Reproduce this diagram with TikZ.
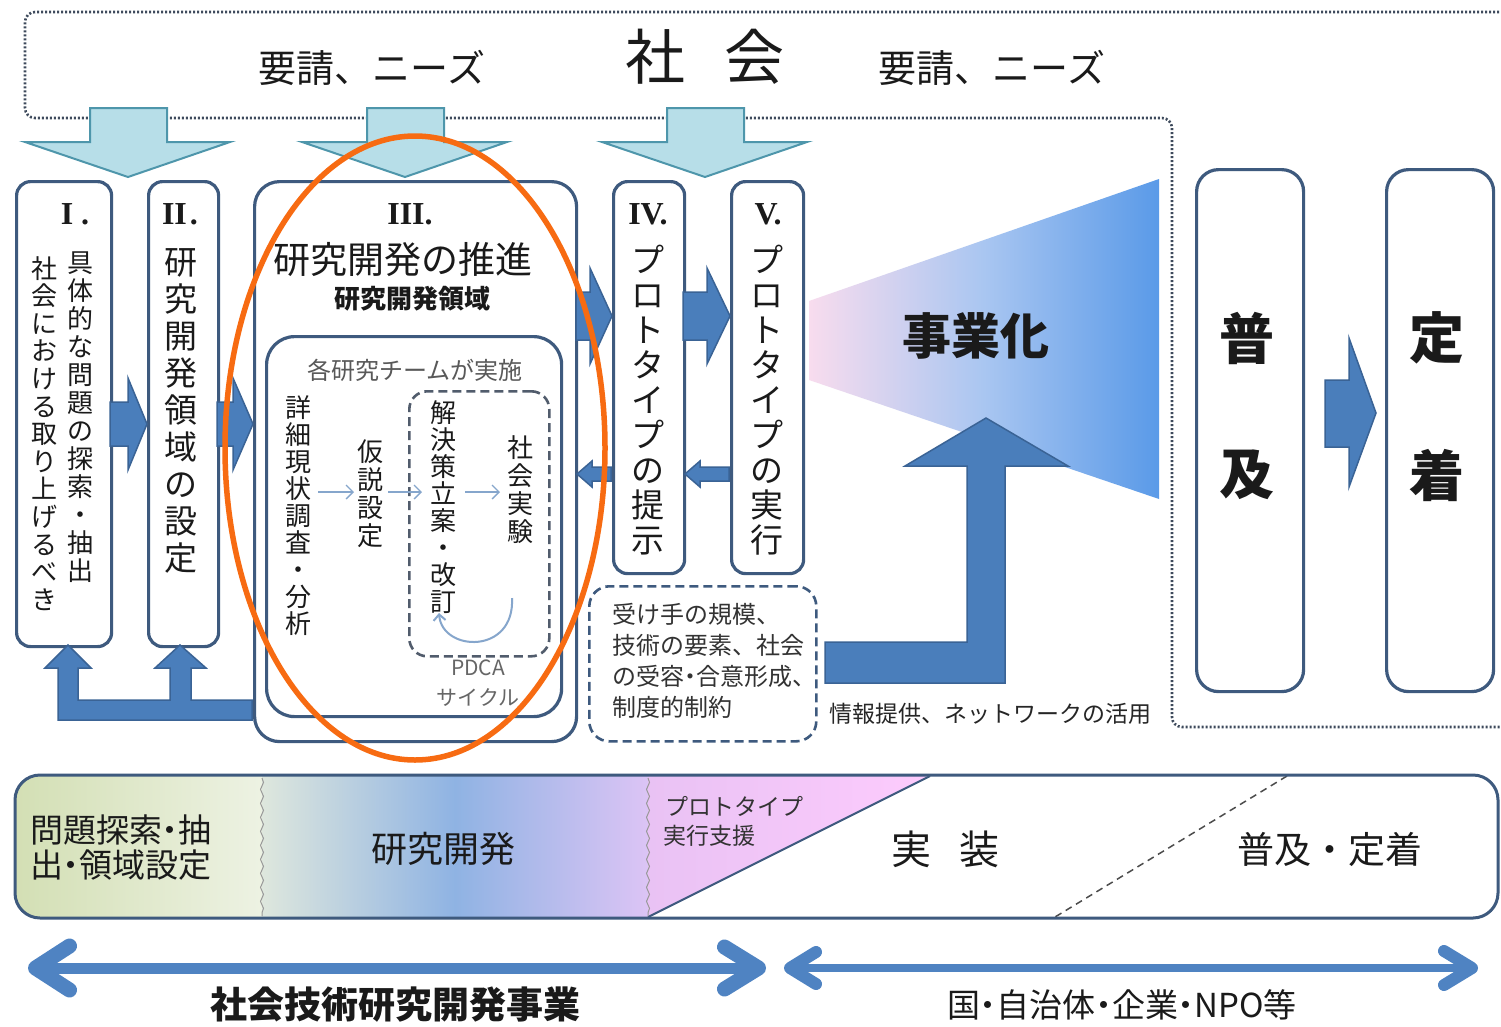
\documentclass[tikz,border=0pt]{standalone}
\usepackage{fontspec}
\setmainfont{Noto Sans CJK JP}
\newfontfamily\romf{Liberation Serif}
\usetikzlibrary{arrows.meta,decorations.pathmorphing}
\definecolor{bxb}{HTML}{3E5A7E}
\definecolor{barF}{HTML}{4A7EBB}
\definecolor{barD}{HTML}{3A6395}
\definecolor{lF}{HTML}{B7DEE8}
\definecolor{lD}{HTML}{4E96AB}
\definecolor{orng}{HTML}{F76B12}
\definecolor{dotc}{HTML}{3E4A5C}
\definecolor{txt}{HTML}{1A1A1A}
\definecolor{trL}{HTML}{F8DCEE}
\definecolor{trM}{HTML}{A9C6F1}
\definecolor{trR}{HTML}{5A9AE8}
\definecolor{gA}{HTML}{D3DFB4}
\definecolor{gB}{HTML}{EDF2E3}
\definecolor{mA}{HTML}{DEE7DD}
\definecolor{mB}{HTML}{8FB3E3}
\definecolor{mC}{HTML}{DCC4F5}
\definecolor{pA}{HTML}{E9C2F4}
\definecolor{pB}{HTML}{FDCBFD}
\definecolor{thin}{HTML}{86A6CC}
\definecolor{botA}{HTML}{4F83C2}
\makeatletter
\def\vt#1{\vt@i#1\@nil}
\def\vt@i#1#2\@nil{#1\ifx\relax#2\relax\expandafter\@gobble\else\expandafter\@firstofone\fi{\\\vt@i#2\@nil}}
\makeatother
\newcommand\md{\makebox[0.5em]{・}}
\tikzset{
  box/.style={draw=bxb, line width=3.2pt, fill=white, anchor=north west, inner sep=0pt, rounded corners=14pt},
  vtxt/.style={anchor=north, inner sep=0pt, align=center, text=txt},
  rom/.style={inner sep=0pt, text=txt, font=\romf\bfseries\fontsize{32}{34}\selectfont},
  barrow/.style={fill=barF, draw=barD, line width=1.5pt, line join=miter},
  larrow/.style={fill=lF, draw=lD, line width=2pt},
  tx/.style={inner sep=0pt, text=txt},
  thinarrow/.style={draw=thin, line width=1.3pt, -{Straight Barb[length=7pt,width=14pt]}},
}
\begin{document}
\begin{tikzpicture}[x=1pt,y=-1pt]
\useasboundingbox (0,0) rectangle (1501,1026);
\fill[white] (0,0) rectangle (1501,1026);

% society frame
\draw[dotc, line width=2.6pt, dash pattern=on 2pt off 2pt, rounded corners=10pt]
  (1515,12) -- (25,12) -- (25,118) -- (1172,118) -- (1172,727) -- (1515,727);
\node[tx, font=\fontsize{38}{40}\selectfont] (need1) at (372,68) {要請、ニーズ};
\node[tx, font=\fontsize{60}{62}\selectfont] (soc) at (705,57) {社\hspace{40pt}会};
\node[tx, font=\fontsize{38}{40}\selectfont] (need2) at (992,68) {要請、ニーズ};

% light down arrows
\foreach \c in {128,405,705}
  \draw[larrow] ({\c-38},108) -- ({\c+39},108) -- ({\c+39},142) -- ({\c+102},142) -- (\c,177) -- ({\c-103},142) -- ({\c-38},142) -- cycle;

% boxes
\node[box, minimum width=95pt, minimum height=465pt] (b1) at (15,180) {};
\node[box, minimum width=70pt, minimum height=465pt] (b2) at (147,180) {};
\node[box, minimum width=322pt, minimum height=560pt, rounded corners=25pt] (b3) at (253,180) {};
\node[box, minimum width=295pt, minimum height=380pt, rounded corners=28pt] (b3in) at (265,335) {};
\node[box, draw=dotc!90, line width=2.6pt, dash pattern=on 9pt off 5pt, minimum width=140pt, minimum height=265pt, rounded corners=18pt] (pdca) at (408,390) {};
\node[box, minimum width=71pt, minimum height=392pt] (b4) at (612,180) {};
\node[box, minimum width=72pt, minimum height=392pt] (b5) at (730,180) {};
\node[box, line width=2.6pt, dash pattern=on 9pt off 5pt, minimum width=227pt, minimum height=155pt, rounded corners=20pt] (cons) at (588,585) {};
\node[box, minimum width=107pt, minimum height=522pt, rounded corners=22pt] (b6) at (1195,168) {};
\node[box, minimum width=107pt, minimum height=522pt, rounded corners=22pt] (b7) at (1385,168) {};

% roman numerals
\node[rom] (r1) at (75,214) {I\hspace{8pt}.};
\node[rom] (r2) at (180,214) {II\hspace{3pt}.};
\node[rom] (r3) at (410,214) {III.};
\node[rom] (r4) at (648,214) {IV.};
\node[rom] (r5) at (768,214) {V.};

% vertical texts
\node[vtxt, font=\fontsize{26}{28}\selectfont] (t1a) at (80,252) {\vt{具体的な問題の探索・抽出}};
\node[vtxt, font=\fontsize{26}{27.6}\selectfont] (t1b) at (44,256) {\vt{社会における取り上げるべき}};
\node[vtxt, font=\fontsize{33}{37}\selectfont] (t2) at (181,248) {\vt{研究開発領域の設定}};
\node[tx, font=\fontsize{37}{39}\selectfont] (t3a) at (403,259) {研究開発の推進};
\node[tx, font=\fontsize{26}{28}\selectfont\bfseries] (t3b) at (412,299) {研究開発領域};
\node[tx, font=\fontsize{24}{26}\selectfont, text=black!65] (t3c) at (415,370) {各研究チームが実施};
\node[vtxt, font=\fontsize{26}{27}\selectfont] (s1) at (298,395) {\vt{詳細現状調査・分析}};
\node[vtxt, font=\fontsize{26}{28}\selectfont] (s2) at (370,440) {\vt{仮説設定}};
\node[vtxt, font=\fontsize{26}{27}\selectfont] (s3) at (443,400) {\vt{解決策立案・改訂}};
\node[vtxt, font=\fontsize{26}{28}\selectfont] (s4) at (520,435) {\vt{社会実験}};
\node[tx, font=\fontsize{21}{23}\selectfont, text=black!60] (pd1) at (478,668) {PDCA};
\node[tx, font=\fontsize{21}{23}\selectfont, text=black!60] (pd2) at (478,697) {サイクル};
\node[vtxt, font=\fontsize{33}{35}\selectfont] (t4) at (648,245) {\vt{プロトタイプの提示}};
\node[vtxt, font=\fontsize{33}{35}\selectfont] (t5) at (767,245) {\vt{プロトタイプの実行}};
\node[anchor=north west, inner sep=0pt, align=left, text=black!80, font=\fontsize{24}{31}\selectfont] (ct) at (612,603) {受け手の規模、\\技術の要素、社会\\の受容\md 合意形成、\\制度的制約};

% thin arrows in III
\coordinate (a1s) at (318,492); \coordinate (a1e) at (354,492);
\coordinate (a2s) at (388,492); \coordinate (a2e) at (422,492);
\coordinate (a3s) at (465,492); \coordinate (a3e) at (500,492);
\draw[thinarrow] (a1s) -- (a1e);
\draw[thinarrow] (a2s) -- (a2e);
\draw[thinarrow] (a3s) -- (a3e);
\draw[draw=thin, line width=2pt, -{Straight Barb[length=6pt,width=12pt]}] (512,598) .. controls (515,655) and (442,652) .. (439,613);

% blue block arrows
\draw[barrow] (110,402) -- (128,402) -- (128,378) -- (147,424) -- (128,470) -- (128,446) -- (110,446) -- cycle;
\draw[barrow] (217,402) -- (233,402) -- (233,378) -- (253,424) -- (233,470) -- (233,446) -- (217,446) -- cycle;
\draw[barrow] (576,292) -- (590,292) -- (590,268) -- (612,316) -- (590,364) -- (590,340) -- (576,340) -- cycle;
\draw[barrow] (683,292) -- (707,292) -- (707,268) -- (730,316) -- (707,364) -- (707,340) -- (683,340) -- cycle;
\draw[barrow] (729,467) -- (700,467) -- (700,461) -- (685,474) -- (700,487) -- (700,481) -- (729,481) -- cycle;
\draw[barrow] (611,467) -- (592,467) -- (592,461) -- (577,474) -- (592,487) -- (592,481) -- (611,481) -- cycle;
\draw[barrow] (252,700) -- (191,700) -- (191,668) -- (206,668) -- (180,645) -- (155,668) -- (170,668) -- (170,700) -- (78,700) -- (78,668) -- (91,668) -- (68,645) -- (45,668) -- (58,668) -- (58,720) -- (252,720) -- cycle;
\draw[barrow] (1325,380) -- (1349,380) -- (1349,338) -- (1376,413) -- (1349,487) -- (1349,447) -- (1325,447) -- cycle;

% commercialization trapezoid
\shade[left color=trL, right color=trR, middle color=trM] (809,301) -- (1159,179) -- (1159,499) -- (809,380) -- cycle;
\node[tx, font=\fontsize{49}{51}\selectfont\bfseries] (biz) at (976,336) {事業化};
\draw[barrow] (825,642) -- (967,642) -- (967,466) -- (905,466) -- (986,418) -- (1068,466) -- (1005,466) -- (1005,683) -- (825,683) -- cycle;
\node[tx, font=\fontsize{23}{25}\selectfont, text=black!85] (info) at (990,714) {情報提供、ネットワークの活用};

% 普及 / 定着 texts
\node[tx, font=\fontsize{55}{57}\selectfont\bfseries] (f1) at (1247,338) {普};
\node[tx, font=\fontsize{55}{57}\selectfont\bfseries] (f2) at (1247,475) {及};
\node[tx, font=\fontsize{55}{57}\selectfont\bfseries] (g1) at (1437,338) {定};
\node[tx, font=\fontsize{55}{57}\selectfont\bfseries] (g2) at (1437,475) {着};

% bottom band
\begin{scope}
\clip[rounded corners=25pt] (15,775) rectangle (1498,918);
\shade[left color=gA, right color=gB] (15,775) rectangle (262,918);
\shade[left color=mA, right color=mC, middle color=mB] (262,775) rectangle (648,918);
\shade[left color=pA, right color=pB] (648,775) -- (930,775) -- (648,918) -- cycle;
\end{scope}
\draw[bxb, line width=2pt] (930,776) -- (648,917);
\draw[black!70, line width=1.5pt, dash pattern=on 7pt off 5pt] (1287,776) -- (1055,917);
\draw[black!40, line width=1pt, decorate, decoration={snake, amplitude=1.5pt, segment length=14pt}] (262,778) -- (262,916);
\draw[black!40, line width=1pt, decorate, decoration={snake, amplitude=1.5pt, segment length=14pt}] (648,778) -- (648,916);
\draw[bxb, line width=3pt, rounded corners=25pt] (15,775) rectangle (1498,918);
\node[anchor=west, inner sep=0pt, align=left, text=txt, font=\fontsize{33}{35}\selectfont] (ph1) at (30,848) {問題探索\md 抽\\出\md 領域設定};
\node[tx, font=\fontsize{36}{38}\selectfont] (ph2) at (443,849) {研究開発};
\node[tx, font=\fontsize{23}{25}\selectfont, text=black!80] (ph3a) at (734,806) {プロトタイプ};
\node[tx, font=\fontsize{23}{25}\selectfont, text=black!80] (ph3b) at (709,836) {実行支援};
\node[tx, font=\fontsize{40}{42}\selectfont] (ph4) at (945,849) {実\hspace{28pt}装};
\node[tx, font=\fontsize{37}{39}\selectfont] (ph5) at (1330,849) {普及・定着};

% bottom double arrows
\coordinate (L1) at (28,968); \coordinate (L2) at (766,968);
\coordinate (R1) at (784,968); \coordinate (R2) at (1478,968);
\draw[botA, line width=11pt, {Straight Barb[length=34pt,width=44pt,line width=15pt,round]}-{Straight Barb[length=34pt,width=42pt,line width=15pt,round]}] (L1) -- (L2);
\draw[botA, line width=8pt, {Straight Barb[length=26pt,width=32pt,line width=12pt,round]}-{Straight Barb[length=28pt,width=34pt,line width=12pt,round]}] (R1) -- (R2);
\node[tx, font=\fontsize{37}{39}\selectfont\bfseries] (bt1) at (395,1005) {社会技術研究開発事業};
\node[tx, font=\fontsize{33}{35}\selectfont] (bt2) at (1122,1005) {国\md 自治体\md 企業\md NPO等};

% orange ellipse
\draw[orng, line width=5.5pt] (415,448) ellipse [x radius=190pt, y radius=312pt];
\end{tikzpicture}
\end{document}
